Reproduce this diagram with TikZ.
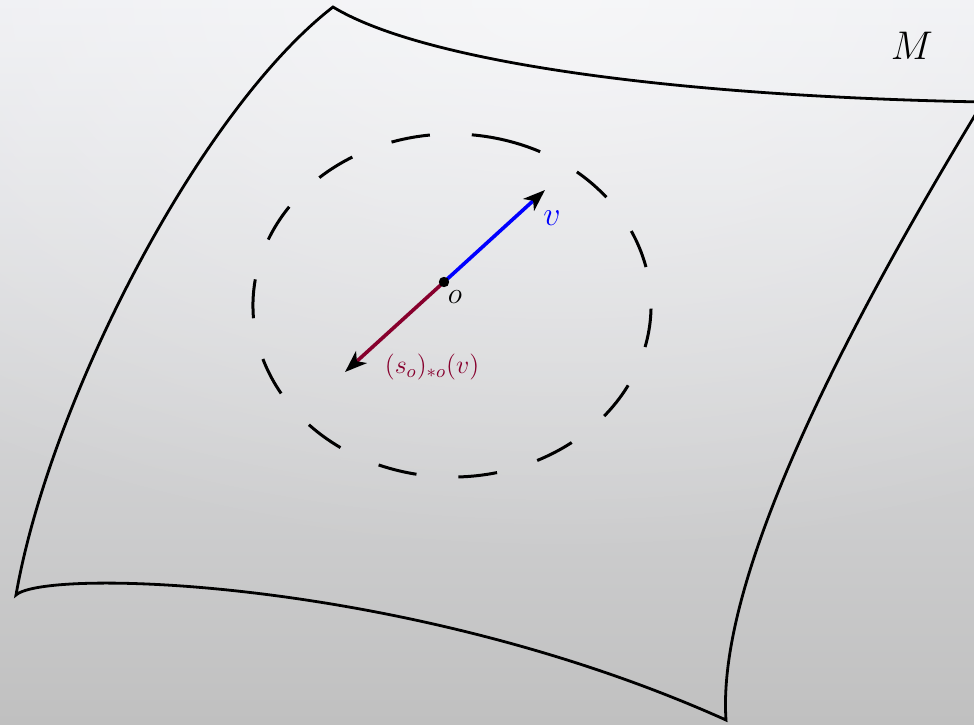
\RequirePackage{fix-cm}
\documentclass[tikz,border=0pt]{standalone}
\usepackage{amsmath}
\usepackage{tikz}
\usetikzlibrary{arrows.meta,fadings}
\definecolor{mfblue}{RGB}{0,0,255}
\definecolor{mfred}{RGB}{135,0,45}
\definecolor{mftop}{RGB}{236,237,241}
\definecolor{mfbot}{RGB}{192,192,192}
\tikzfading[name=mfglow, inner color=transparent!0, outer color=transparent!100]
\tikzset{
  surf/.style={draw=black, line width=1.4pt},
  nbhd/.style={draw=black, line width=1.5pt, dash pattern=on 19.5pt off 21pt},
  vec/.style={line width=1.8pt, -{Stealth[color=black, length=11pt, width=8pt, inset=3pt]}},
  lbl/.style={inner sep=0pt, text=black},
  every picture/.append style={x=0.5pt, y=0.5pt}
}

\begin{document}
\begin{tikzpicture}
  \useasboundingbox (0,0) rectangle (974,724);
  % background
  \shade[top color=mftop, bottom color=mfbot] (0,0) rectangle (974,724);
  \fill[white, opacity=0.55, path fading=mfglow] (560,724) ellipse (1000 and 560);
  % the manifold
  \coordinate (A) at (333,717);
  \coordinate (B) at (983,622);
  \coordinate (C) at (726,4);
  \coordinate (D) at (16,129);
  \draw[surf] (A) .. controls (420,664) and (660,628) .. (B)
    .. controls (880,452) and (715,164) .. (C)
    .. controls (410,146) and (46,156) .. (D)
    .. controls (50,324) and (200,614) .. cycle;
  \node[lbl, font=\fontsize{20}{24}\selectfont] (M) at (912,678) {$M$};
  % neighbourhood of o
  \coordinate (E) at (452,418.5);
  \draw[nbhd] (E) ++(73:199 and 171.5)
    arc[start angle=73, delta angle=360, x radius=199, y radius=171.5];
  % tangent vectors
  \coordinate (o) at (444,442);
  \coordinate (vtip) at (545,534);
  \coordinate (stip) at (345,352);
  \draw[vec, mfblue] (o) -- (vtip);
  \draw[vec, mfred] (o) -- (stip);
  \fill (o) circle (2.6pt);
  \node[lbl, text=mfblue, font=\fontsize{17}{20}\selectfont] (v) at (552,506) {$v$};
  \node[lbl, font=\fontsize{15}{18}\selectfont] (olbl) at (455,427) {$o$};
  \node[lbl, text=mfred, font=\fontsize{13}{16}\selectfont] (slbl) at (432,357) {$(s_o)_{*o}(v)$};
\end{tikzpicture}
\end{document}
